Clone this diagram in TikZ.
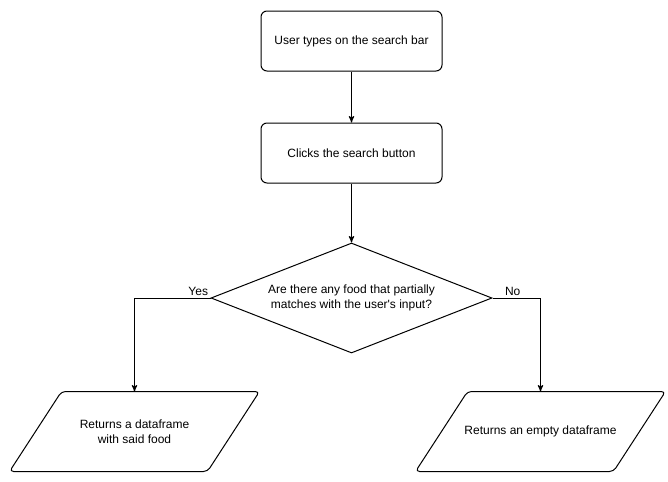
\documentclass[tikz,border=0pt]{standalone}
\usepackage{fontspec}
\setmainfont{Liberation Sans}
\usetikzlibrary{arrows,positioning,shapes.geometric}

\begin{document}
\begin{tikzpicture}[->,>=stealth',x=0.75pt,y=-0.75pt,line width=0.75pt,
                    font=\fontsize{9}{11}\selectfont,node distance=38.25pt,
  process/.style={draw,rounded corners=4.5pt,minimum width=135.75pt,
                  minimum height=45pt,align=center},
  decision/.style={draw,diamond,aspect=2.55,minimum width=210.75pt,
                   minimum height=82.5pt,inner sep=0pt,align=center},
  io/.style={minimum width=147.75pt,minimum height=59.25pt,align=center},
  slanted/.style={-,rounded corners=3pt}]

  \useasboundingbox (0,0) rectangle (668,482);

  \node[process]  (type) at (351.5,41) {User types on the search bar};
  \node[process]  (click) [below=of type] {Clicks the search button};
  \node[decision] (match) [below=44.25pt of click]
        {Are there any food that partially\\matches with the user\textquotesingle s input?};
  \node[io]       (found) at (134.5,431.5) {Returns a dataframe\\with said food};
  \node[io]       (empty) at (540.5,431.5) {Returns an empty dataframe};

  % parallelogram outlines of the two outputs
  \foreach \n in {found,empty}
    \draw[slanted] ([xshift=-19.5pt]\n.south west) -- ([xshift=-19.5pt]\n.south east)
      -- ([xshift=19.5pt]\n.north east) -- ([xshift=19.5pt]\n.north west) -- cycle;

  \draw (type) -- (click);
  \draw (click) -- (match);
  \draw (match.west) node[above left,inner sep=1.5pt] {Yes} -| (found.north);
  \draw (match.east) node[above right,inner sep=1.5pt,xshift=7.5pt] {No} -| (empty.north);
\end{tikzpicture}
\end{document}
